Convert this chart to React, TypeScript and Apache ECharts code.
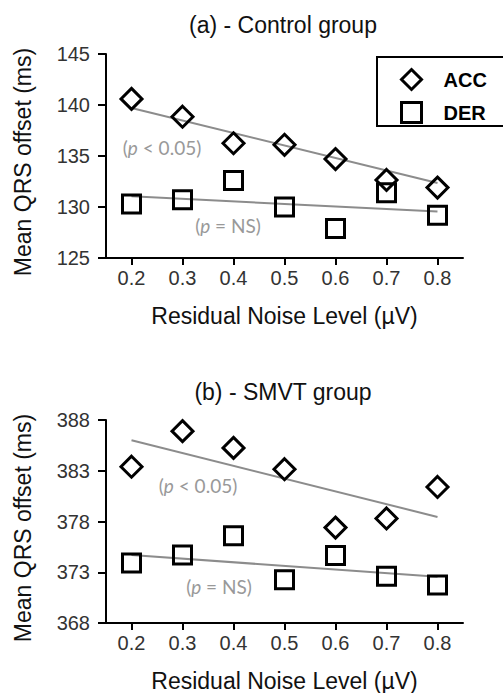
import React, { useEffect, useRef } from "react";
import * as echarts from "echarts";

// ---- data ----
const xValues = [0.2, 0.3, 0.4, 0.5, 0.6, 0.7, 0.8];
const fitX = [0.2, 0.8];

const controlAcc = [140.6, 138.85, 136.25, 136.1, 134.7, 132.65, 131.9];
const controlDer = [130.3, 130.7, 132.6, 130.0, 127.9, 131.4, 129.2];
const controlAccFit = [139.7, 132.35];
const controlDerFit = [131.05, 129.55];

const smvtAcc = [383.4, 386.9, 385.25, 383.15, 377.4, 378.3, 381.4];
const smvtDer = [373.9, 374.7, 376.6, 372.25, 374.65, 372.6, 371.75];
const smvtAccFit = [386.0, 378.45];
const smvtDerFit = [374.7, 372.55];

const controlTicks = [125, 130, 135, 140, 145];
const smvtTicks = [368, 373, 378, 383, 388];

const titles = ["(a) - Control group", "(b) - SMVT group"];
const xName = "Residual Noise Level (\u00B5V)";
const yName = "Mean QRS offset (ms)";
const seriesNames = ["ACC", "DER"];

const FONT = "'Liberation Sans', Arial, sans-serif";
const NOTE_FONT = "Lato, 'Open Sans', sans-serif";

const pairs = (xs: number[], ys: number[]) => xs.map((x, i) => [x, ys[i]]);

const markerStyle = { color: "transparent", borderColor: "#000", borderWidth: 3, opacity: 1 };

function note(text: string, x: number, y: number) {
  const parts = text.split("p");
  return {
    type: "text",
    x,
    y,
    silent: true,
    style: {
      text: `{n|${parts[0]}}{i|p}{n|${parts[1]}}`,
      align: "center",
      verticalAlign: "middle",
      rich: {
        n: { fontSize: 19, fontFamily: NOTE_FONT, fill: "#999" },
        i: { fontSize: 19, fontFamily: NOTE_FONT, fill: "#999", fontStyle: "italic" },
      },
    },
  };
}

export default function App() {
  const ref = useRef<HTMLDivElement>(null);

  useEffect(() => {
    if (!ref.current) return;
    const chart = echarts.init(ref.current, undefined, { renderer: "svg" });

    const xAxis = [0, 1].map((i) => ({
      type: "value",
      gridIndex: i,
      min: 0.15,
      max: 0.85,
      name: xName,
      nameLocation: "middle",
      nameGap: 46,
      nameTextStyle: { fontSize: 23, color: "#111", fontFamily: FONT },
      axisLine: { show: true, lineStyle: { color: "#000", width: 2 } },
      axisTick: { show: true, customValues: xValues, length: 7, lineStyle: { color: "#000", width: 2 } },
      axisLabel: {
        customValues: xValues,
        formatter: (v: number) => v.toFixed(1),
        fontSize: 20,
        color: "#333",
        margin: 10,
        fontFamily: FONT,
      },
      splitLine: { show: false },
    }));

    const yTicks = [controlTicks, smvtTicks];
    const yAxis = [0, 1].map((i) => ({
      type: "value",
      gridIndex: i,
      min: yTicks[i][0],
      max: yTicks[i][yTicks[i].length - 1],
      axisLine: { show: true, lineStyle: { color: "#000", width: 2 } },
      axisTick: { show: true, customValues: yTicks[i], length: 8, lineStyle: { color: "#000", width: 2 } },
      axisLabel: { customValues: yTicks[i], fontSize: 20, color: "#333", margin: 16, fontFamily: FONT },
      splitLine: { show: false },
    }));

    const fitLine = (data: number[], idx: number) => ({
      type: "line",
      xAxisIndex: idx,
      yAxisIndex: idx,
      data: pairs(fitX, data),
      symbol: "none",
      silent: true,
      z: 1,
      lineStyle: { color: "#8c8c8c", width: 2 },
    });

    const scatter = (name: string, data: number[], idx: number) => ({
      type: "scatter",
      name,
      xAxisIndex: idx,
      yAxisIndex: idx,
      data: pairs(xValues, data),
      symbol: name === "ACC" ? "diamond" : "rect",
      symbolSize: name === "ACC" ? 21 : 18,
      itemStyle: markerStyle,
      z: 3,
    });

    chart.setOption({
      animation: false,
      backgroundColor: "#fff",
      grid: [
        { left: 106, top: 54, width: 357, height: 204 },
        { left: 106, top: 420, width: 357, height: 206 },
      ],
      xAxis,
      yAxis,
      legend: {
        data: [
          { name: seriesNames[0], icon: "diamond", itemStyle: markerStyle },
          { name: seriesNames[1], icon: "rect", itemStyle: markerStyle },
        ],
        orient: "vertical",
        left: 377,
        top: 57,
        padding: [11, 10, 9, 23],
        itemWidth: 20,
        itemHeight: 20,
        itemGap: 10,
        borderWidth: 0,
        selectedMode: false,
        textStyle: { fontSize: 20, fontWeight: "bold", color: "#000", fontFamily: FONT, padding: [0, 0, 0, 17] },
      },
      series: [
        fitLine(controlAccFit, 0),
        fitLine(controlDerFit, 0),
        fitLine(smvtAccFit, 1),
        fitLine(smvtDerFit, 1),
        scatter("ACC", controlAcc, 0),
        scatter("DER", controlDer, 0),
        scatter("ACC", smvtAcc, 1),
        scatter("DER", smvtDer, 1),
      ],
      graphic: [
        {
          type: "rect",
          silent: true,
          shape: { x: 377, y: 57, width: 160, height: 69 },
          style: { fill: "none", stroke: "#000", lineWidth: 2 },
        },
        {
          type: "text",
          x: 283,
          y: 25,
          style: { text: titles[0], fontSize: 23, fontFamily: FONT, fill: "#111", align: "center", verticalAlign: "middle" },
        },
        {
          type: "text",
          x: 283,
          y: 392,
          style: { text: titles[1], fontSize: 23, fontFamily: FONT, fill: "#111", align: "center", verticalAlign: "middle" },
        },
        {
          type: "text",
          x: 23,
          y: 162,
          rotation: Math.PI / 2,
          style: { text: yName, fontSize: 23, fontFamily: FONT, fill: "#111", align: "center", verticalAlign: "middle" },
        },
        {
          type: "text",
          x: 23,
          y: 528,
          rotation: Math.PI / 2,
          style: { text: yName, fontSize: 23, fontFamily: FONT, fill: "#111", align: "center", verticalAlign: "middle" },
        },
        note("(p < 0.05)", 162, 147),
        note("(p = NS)", 228, 225),
        note("(p < 0.05)", 198, 485),
        note("(p = NS)", 219, 586),
      ],
    });

    return () => chart.dispose();
  }, []);

  return (
    <div
      ref={ref}
      style={{ position: "absolute", left: 0, top: 0, width: 503, height: 693, background: "#fff" }}
    />
  );
}
